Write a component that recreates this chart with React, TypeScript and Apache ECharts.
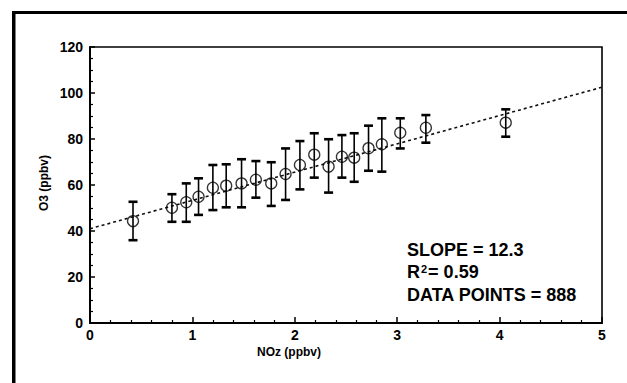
import React, { useEffect, useRef } from "react";
import * as echarts from "echarts";

// Binned NOz (ppbv) with mean O3 (ppbv) and the spread of each bin
const NOZ = [0.42, 0.8, 0.94, 1.06, 1.2, 1.33, 1.48, 1.62, 1.77, 1.91, 2.05, 2.19, 2.33, 2.46, 2.58, 2.72, 2.85, 3.03, 3.28, 4.06];
const O3_MEAN = [44.3, 50.1, 52.5, 54.9, 58.8, 59.7, 60.7, 62.3, 60.7, 64.8, 68.7, 73.2, 68.0, 72.3, 71.9, 76.0, 77.7, 82.7, 84.9, 87.1];
const O3_HIGH = [52.7, 56.0, 60.7, 62.9, 68.7, 69.0, 71.2, 70.4, 69.9, 75.9, 79.1, 82.5, 79.9, 81.7, 82.5, 85.8, 89.0, 89.0, 90.4, 92.9];
const O3_LOW = [36.0, 44.0, 44.0, 47.0, 49.1, 50.3, 50.3, 54.5, 50.9, 53.5, 58.1, 63.2, 56.7, 63.2, 61.4, 66.2, 65.8, 75.9, 78.4, 81.0];

// Regression line
const FIT_SLOPE = 12.3;
const FIT_INTERCEPT = 41;
const FIT_X_RANGE = [0, 5];
const R_SQUARED = "0.59";
const DATA_POINTS = 888;

const X_TICKS = { min: 0, max: 5, interval: 1 };
const Y_TICKS = { min: 0, max: 120, interval: 20 };

const FONT = "'Liberation Sans', Arial, Helvetica, sans-serif";

export default function App() {
  const ref = useRef<HTMLDivElement>(null);

  useEffect(() => {
    if (!ref.current) return;
    const chart = echarts.init(ref.current, null, { renderer: "svg" });

    const means = NOZ.map((x, i) => [x, O3_MEAN[i]]);
    const bars = NOZ.map((x, i) => [x, O3_LOW[i], O3_HIGH[i]]);
    const fit = FIT_X_RANGE.map((x) => [x, FIT_INTERCEPT + FIT_SLOPE * x]);

    const option: any = {
      animation: false,
      backgroundColor: "#fff",
      grid: {
        left: 90,
        top: 47,
        width: 512,
        height: 276,
        show: true,
        borderColor: "#000",
        borderWidth: 1.6,
        backgroundColor: "transparent",
      },
      xAxis: {
        type: "value",
        min: X_TICKS.min,
        max: X_TICKS.max,
        interval: X_TICKS.interval,
        axisLine: { show: true, onZero: false, lineStyle: { color: "#000", width: 2 } },
        axisTick: { show: true, inside: true, length: 6, lineStyle: { color: "#000", width: 1.5 } },
        minorTick: { show: true, splitNumber: 5, length: 3, lineStyle: { color: "#000", width: 1.2 } },
        splitLine: { show: false },
        axisLabel: {
          margin: 5,
          color: "#000",
          fontFamily: FONT,
          fontWeight: "bold",
          fontSize: 14,
        },
      },
      yAxis: {
        type: "value",
        min: Y_TICKS.min,
        max: Y_TICKS.max,
        interval: Y_TICKS.interval,
        axisLine: { show: true, onZero: false, lineStyle: { color: "#000", width: 2 } },
        axisTick: { show: true, inside: true, length: 5, lineStyle: { color: "#000", width: 1.5 } },
        minorTick: { show: true, splitNumber: 4, length: 3, lineStyle: { color: "#000", width: 1.2 } },
        splitLine: { show: false },
        axisLabel: {
          margin: 7,
          color: "#000",
          fontFamily: FONT,
          fontWeight: "bold",
          fontSize: 14,
        },
      },
      series: [
        {
          type: "line",
          data: fit,
          symbol: "none",
          lineStyle: { color: "#111", width: 1.6, type: [3, 3] },
          z: 1,
        },
        {
          type: "custom",
          data: bars,
          z: 2,
          renderItem: (params: any, api: any) => {
            const x = api.value(0);
            const lo = api.coord([x, api.value(1)]);
            const hi = api.coord([x, api.value(2)]);
            const cap = 4.5;
            const stroke = { stroke: "#000", lineWidth: 1.6 };
            const capStroke = { stroke: "#000", lineWidth: 2.6 };
            return {
              type: "group",
              children: [
                { type: "line", shape: { x1: lo[0], y1: lo[1], x2: hi[0], y2: hi[1] }, style: stroke },
                { type: "line", shape: { x1: hi[0] - cap, y1: hi[1], x2: hi[0] + cap, y2: hi[1] }, style: capStroke },
                { type: "line", shape: { x1: lo[0] - cap, y1: lo[1], x2: lo[0] + cap, y2: lo[1] }, style: capStroke },
              ],
            };
          },
        },
        {
          type: "scatter",
          data: means,
          symbol: "circle",
          symbolSize: 11,
          itemStyle: { color: "transparent", borderColor: "#000", borderWidth: 1.3 },
          z: 3,
        },
      ],
      graphic: [
        // page frame
        { type: "rect", shape: { x: 12, y: 11, width: 615, height: 3 }, style: { fill: "#000" } },
        { type: "rect", shape: { x: 12, y: 11, width: 3.5, height: 372 }, style: { fill: "#000" } },
        // axis titles
        {
          type: "text",
          x: 44,
          y: 183,
          rotation: Math.PI / 2,
          style: {
            text: "O3 (ppbv)",
            fill: "#000",
            font: `bold 12px ${FONT}`,
            textAlign: "center",
            textVerticalAlign: "middle",
          },
        },
        {
          type: "text",
          x: 289,
          y: 352,
          style: {
            text: "NOz (ppbv)",
            fill: "#000",
            font: `bold 12px ${FONT}`,
            textAlign: "center",
            textVerticalAlign: "middle",
          },
        },
        // regression statistics
        {
          type: "text",
          x: 407,
          y: 250,
          style: {
            text: `SLOPE = ${FIT_SLOPE}`,
            fill: "#000",
            font: `bold 18px ${FONT}`,
            textAlign: "left",
            textVerticalAlign: "middle",
          },
        },
        {
          type: "text",
          x: 407,
          y: 272,
          style: {
            text: `{b|R}{s|2}{b|= ${R_SQUARED}}`,
            textAlign: "left",
            textVerticalAlign: "middle",
            rich: {
              b: { fill: "#000", font: `bold 18px ${FONT}`, verticalAlign: "bottom" },
              s: { fill: "#000", font: `bold 11px ${FONT}`, verticalAlign: "top", padding: [0, 1, 7, 1] },
            },
          },
        },
        {
          type: "text",
          x: 407,
          y: 295,
          style: {
            text: `DATA POINTS = ${DATA_POINTS}`,
            fill: "#000",
            font: `bold 18px ${FONT}`,
            textAlign: "left",
            textVerticalAlign: "middle",
          },
        },
      ],
    };

    chart.setOption(option);
    return () => chart.dispose();
  }, []);

  return (
    <div
      ref={ref}
      style={{ position: "fixed", left: 0, top: 0, width: 627, height: 383, background: "#fff" }}
    />
  );
}
